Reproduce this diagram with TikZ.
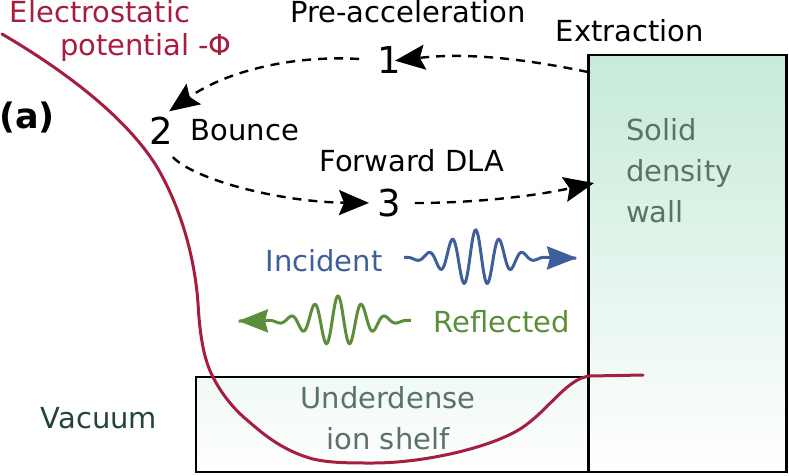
\documentclass[tikz,border=0pt]{standalone}
\usepackage{fontspec}
\setmainfont{DejaVu Sans}
\usetikzlibrary{arrows.meta}
\definecolor{potred}{HTML}{A51E3F}
\definecolor{incblue}{HTML}{3F5F9B}
\definecolor{refgreen}{HTML}{5B8E3A}
\definecolor{wallgrey}{HTML}{5A7367}
\definecolor{vacgreen}{HTML}{24443A}
\definecolor{walltop}{HTML}{C6EAD9}
\definecolor{shelftop}{HTML}{F0F9F5}
\begin{document}
\begin{tikzpicture}[
        x=1pt, y=-1pt,
        lbl/.style = {inner sep=0pt, font=\fontsize{29}{41}\selectfont},
        num/.style = {inner sep=0pt, font=\fontsize{37}{37}\selectfont},
        flow/.style = {dashed, dash pattern=on 9pt off 7pt, line width=2.4pt, -{Stealth[length=30pt,width=25pt,inset=5pt]}},
        wave/.style = {line width=3pt, smooth, samples=220, -{Stealth[length=30pt,width=23pt,inset=3pt]}},
        box/.style = {draw=black, line width=2.5pt, inner sep=0pt}
    ]
        \useasboundingbox (0,0) rectangle (789,475);
        % target
        \node[box, minimum width=392pt, minimum height=95pt, top color=shelftop, bottom color=white] (shelf) at (392,424.5) {};
        \node[box, minimum width=198pt, minimum height=417pt, top color=walltop, bottom color=white] (wall) at (687.5,263.5) {};
        % labels
        \node[lbl, text=potred] (elec) at (100,12) {Electrostatic};
        \node[lbl, text=potred] (pot) at (146,47) {potential -Φ};
        \node[inner sep=0pt, font=\fontsize{35}{35}\selectfont\bfseries] (panel) at (27,118) {(a)};
        \node[lbl] (preacc) at (408,12) {Pre-acceleration};
        \node[lbl] (extr) at (630,31) {Extraction};
        \node[lbl] (bounce) at (245,130) {Bounce};
        \node[lbl] (fwd) at (412,161) {Forward DLA};
        \node[lbl, text=wallgrey, align=left, anchor=west] (solid) at (626,171) {Solid\\density\\wall};
        \node[lbl, text=wallgrey, align=center] (under) at (388,418) {Underdense\\ion shelf};
        \node[lbl, text=vacgreen] (vac) at (99,418) {Vacuum};
        \node[lbl, text=incblue] (inc) at (324,261) {Incident};
        \node[lbl, text=refgreen] (refl) at (502,322) {Reflected};
        \node[num] (one) at (389,60) {1};
        \node[num] (two) at (161,131) {2};
        \node[num] (three) at (389,203) {3};
        \coordinate (extract) at (588,72);
        \coordinate (inject) at (594,183);
        % trajectory
        \draw[flow, shorten >=-6pt] (extract) .. controls (530,60) and (470,52) .. (one.east);
        \draw[flow, shorten <=18pt, shorten >=10pt] (one.west) .. controls (290,55) and (225,72) .. (two.north);
        \draw[flow, shorten <=17pt, shorten >=8pt] (two.south) .. controls (195,180) and (280,202) .. (three.west);
        \draw[flow, shorten <=14pt] (three.east) .. controls (470,203) and (530,197) .. (inject);
        % pulses
        \draw[wave, incblue, domain=404:577] plot (\x, {258 - 28*exp(-(\x-475.7)^2/1350)*cos((\x-475.7)*15.32)});
        \draw[wave, refgreen, domain=411:238] plot (\x, {321 - 25*exp(-(\x-338)^2/1350)*cos((\x-338)*15.32)});
        % potential
        \draw[potred, line width=3pt, line cap=round] (2,34) .. controls (60,68) and (125,115) .. (157,167)
            .. controls (178,203) and (194,250) .. (198,303) .. controls (200,340) and (205,362) .. (213,377)
            .. controls (222,395) and (235,410) .. (247,420) .. controls (260,431) and (280,450) .. (313,459)
            .. controls (330,463) and (350,463) .. (373,463) .. controls (420,463) and (480,450) .. (513,433)
            .. controls (545,417) and (565,378) .. (590,376) -- (643,375);
    \end{tikzpicture}
\end{document}
